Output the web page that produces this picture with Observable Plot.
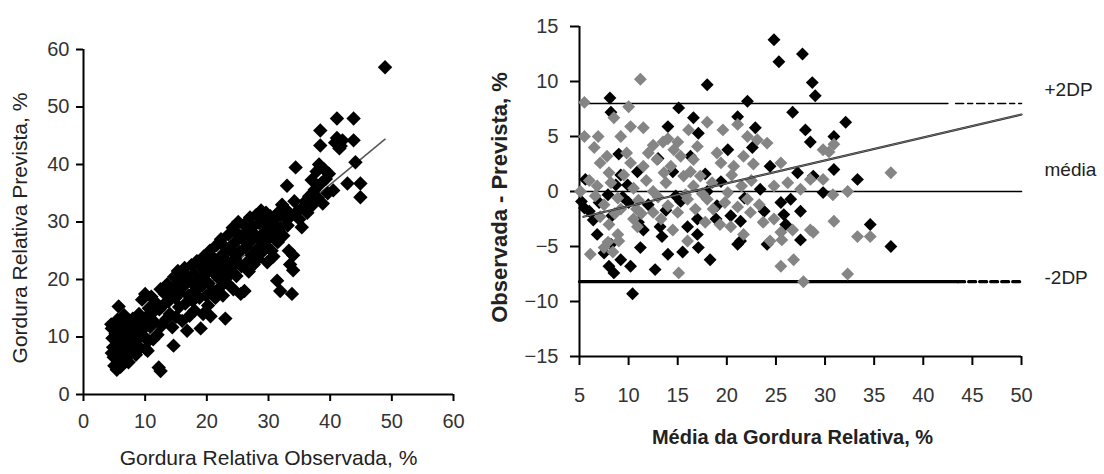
<!DOCTYPE html>
<html><head><meta charset="utf-8">
<script src="https://cdn.jsdelivr.net/npm/d3@7"></script>
<script src="https://cdn.jsdelivr.net/npm/@observablehq/plot@0.6"></script>
<style>
body{margin:0;background:#fff;}
#wrap{position:relative;width:1104px;height:474px;}
#left{position:absolute;left:0;top:0;}
#right{position:absolute;left:480px;top:0;}
</style></head><body><div id="wrap"><div id="left"></div><div id="right"></div></div>
<script>
// ---------- Left chart: observed vs predicted relative fat (%) ----------
const leftPoints = [
[4.6,11.5],[4.7,9.8],[4.8,8.2],[4.9,6.5],[5.0,5.0],[5.1,12.3],[5.2,10.6],[5.3,7.4],[5.4,4.3],[5.5,9.0],[5.6,11.8],[5.7,15.3],[5.8,6.1],[5.9,8.7],[6.0,10.2],[6.1,12.6],[6.2,5.4],[6.3,7.7],[6.5,9.5],[6.6,13.8],[6.7,11.0],[6.8,6.8],[7.0,8.3],[7.1,10.7],[7.2,12.0],[7.3,5.6],[4.5,12.2],[4.6,7.2],[5.0,10.0],[5.5,13.0],[6.0,4.8],[6.4,8.0],
[7.5,9.2],[7.6,7.1],[7.8,11.4],[8.0,13.2],[8.1,8.6],[8.3,10.4],[8.5,6.9],[8.6,12.5],[8.8,9.7],[9.0,14.0],[9.2,8.1],[9.4,11.1],[9.5,16.5],[9.7,12.9],[9.9,10.0],[10.0,17.5],[10.1,7.9],[10.3,13.6],[10.5,9.3],[10.6,15.0],[10.4,7.6],
[10.8,11.8],[11.0,17.0],[11.2,14.2],[11.3,9.6],[11.5,12.6],[11.7,16.0],[12.0,10.4],[12.2,4.7],[12.5,4.1],[12.3,14.8],[12.5,18.3],[12.7,12.0],[13.0,15.6],[13.2,17.5],[13.4,13.1],[13.6,19.2],[13.8,16.2],[14.0,14.0],[14.2,18.0],[14.4,11.7],[14.6,8.5],[14.7,20.5],[14.9,16.8],[15.0,13.5],[15.1,19.0],[15.3,21.5],[15.5,15.2],[15.6,17.6],[15.8,20.2],
[16.0,12.8],[16.2,18.8],[16.4,22.0],[16.5,15.8],[16.7,20.8],[16.8,11.1],[17.0,17.2],[17.2,13.7],[17.4,19.6],[17.5,22.5],[17.7,16.3],[17.9,21.0],[18.0,14.6],[18.2,18.2],[18.4,23.2],[18.6,20.0],[18.8,16.8],[19.0,11.5],[19.0,22.2],[19.2,18.9],[19.4,14.0],[19.5,24.0],[19.7,20.8],[19.9,17.2],[20.0,22.8],[20.2,15.5],[20.3,19.3],[20.5,25.0],[20.6,13.6],
[20.8,21.5],[21.0,18.0],[21.2,23.6],[21.4,16.8],[21.6,26.0],[21.8,20.3],[22.0,22.5],[22.1,18.6],[22.3,27.0],[22.5,24.3],[22.6,17.2],[22.8,21.2],[23.0,13.2],[23.0,25.6],[23.2,19.5],[23.4,23.0],[23.5,27.8],[23.7,20.8],[23.9,25.0],[24.0,22.0],[24.2,29.0],[24.3,18.3],[24.5,26.4],[24.6,23.6],[24.8,20.6],[25.0,28.0],[25.1,30.0],[25.3,24.8],[25.5,17.5],[25.6,22.3],[25.8,27.0],
[26.0,29.5],[26.1,18.0],[26.3,25.6],[26.5,23.0],[26.6,28.4],[26.8,21.4],[27.0,30.8],[27.1,26.6],[27.3,24.2],[27.5,29.2],[27.6,22.6],[27.8,27.8],[28.0,31.2],[28.1,25.2],[28.3,23.6],[28.5,29.8],[28.6,27.0],[28.8,32.0],[29.0,24.8],[29.1,30.5],[29.3,28.2],[29.5,26.0],[29.6,31.6],[29.8,23.0],[30.0,29.0],[30.1,27.2],[30.3,31.0],[30.5,25.0],[30.6,29.8],
[30.8,24.0],[31.0,28.2],[31.2,30.6],[31.4,19.8],[31.5,26.5],[31.7,31.8],[31.9,18.0],[32.0,29.0],[32.2,33.0],[32.4,27.6],[32.6,30.8],[32.8,32.2],[33.0,36.3],[33.1,29.4],[33.3,25.0],[33.5,22.6],[33.8,17.5],[33.6,31.0],[34.0,21.6],[34.0,24.2],[34.2,33.6],[34.4,39.5],[34.6,31.8],[35.0,30.5],[35.4,29.1],[35.6,32.6],[36.0,33.6],[36.3,31.6],
[36.6,34.5],[37.0,37.3],[37.2,33.0],[37.5,35.6],[37.8,38.8],[38.0,34.2],[38.2,40.0],[38.4,43.3],[38.4,45.9],[38.6,36.8],[38.8,33.2],[39.0,39.2],[39.3,37.5],[39.6,35.0],[39.8,38.4],[40.5,35.5],[40.8,43.8],[41.1,48.0],[41.1,44.6],[41.5,42.8],[41.7,43.2],[42.0,44.2],[42.8,36.7],[43.8,48.0],[43.8,44.2],[44.1,40.4],[44.9,36.7],[44.9,34.3],[48.9,56.9]
];
const leftFitX = [5, 48.9];
const leftFitY = [5.5, 44.4];
const leftTicks = [0, 10, 20, 30, 40, 50, 60];
const leftXTitle = "Gordura Relativa Observada, %";
const leftYTitle = "Gordura Relativa Prevista, %";

// ---------- Right chart: Bland-Altman (mean vs difference) ----------
const blackPoints = [
[24.8,13.8],[25.3,11.8],[27.7,12.5],[28.7,9.9],[29.0,8.7],[18.0,9.7],[8.1,8.5],[8.2,7.2],[15.1,7.6],[22.1,8.2],[26.7,7.2],[28.0,5.6],[28.5,4.5],[32.1,6.3],[30.9,5.0],[30.9,2.0],[33.3,1.1],[34.6,-3.0],[16.6,6.7],[17.1,5.3],[14.0,5.9],[20.1,3.8],[21.1,6.8],[22.9,5.8],[22.6,4.0],[9.0,3.4],[5.6,1.1],[14.5,1.8],[19.4,0.9],[23.4,0.2],[24.4,2.3],[27.2,1.7],[5.5,-1.5],[5.2,-0.9],[6.4,-2.6],[15.3,-0.9],[17.0,-2.5],[18.9,-2.5],[25.5,-1.0],[26.5,-0.7],[27.5,-1.8],[29.8,-0.1],[28.8,1.4],[9.9,0.6],[10.9,1.8],[16.0,-3.2],[20.4,-2.2],[21.4,-2.7],[25.8,-2.1],[11.5,-3.5],[13.2,-3.2],[8.7,0.6],[7.9,-0.3],[10.0,-1.0],[27.5,-4.4],[21.4,-4.5],[10.4,-9.3],[10.2,-6.8],[8.5,-7.4],[8.0,-6.8],[6.8,-3.9],[12.7,-7.1],[14.0,-5.7],[15.5,-5.5],[17.1,-5.1],[18.3,-6.2],[17.0,-3.9],[11.2,-5.1],[13.4,-4.1],[21.1,-4.8],[24.1,-4.8],[9.2,-6.2],[36.7,-5.0],
[6.0,-1.8],[7.0,-1.0],[8.3,-2.2],[9.4,-0.5],[12.0,-1.2],[13.8,-1.7],[14.8,-0.4],[18.0,0.0],[19.0,-1.3],[21.8,-0.6],[23.8,-1.8],[26.0,-3.0],[7.5,-5.6],[8.2,-4.8],[11.0,-2.8],[9.2,1.5],[13.0,3.0],[16.3,3.2],[17.8,1.6]
];
const grayPoints = [
[11.2,10.2],[5.5,8.1],[10.0,7.7],[8.5,6.7],[5.5,5.0],[6.9,5.0],[9.2,5.0],[10.2,5.9],[11.5,5.8],[13.5,4.5],[14.6,3.8],[16.1,5.6],[18.0,6.3],[19.6,5.6],[21.1,6.1],[22.1,5.0],[23.1,4.7],[24.1,4.4],[17.0,4.1],[7.1,2.6],[8.0,1.7],[10.2,2.6],[11.5,2.3],[12.9,2.9],[13.6,1.7],[15.6,1.4],[16.6,2.9],[17.3,1.4],[19.4,2.6],[20.7,2.3],[21.7,3.2],[22.7,2.5],[25.5,2.6],[29.8,3.8],[30.9,4.3],[5.1,0.0],[6.6,-0.4],[8.9,-0.6],[10.5,0.3],[12.5,0.0],[14.0,-1.3],[16.6,0.5],[18.0,-0.7],[20.1,-0.1],[22.1,-0.7],[24.8,0.5],[26.2,0.8],[27.5,0.2],[28.5,1.1],[30.8,-0.3],[32.3,0.0],[24.8,-2.5],[30.9,-2.7],[28.5,-3.5],[33.3,-4.1],[7.1,-2.3],[9.2,-1.6],[10.5,-2.5],[12.5,-1.9],[15.0,-1.9],[16.0,-0.7],[18.6,-1.6],[21.1,-1.4],[22.4,-1.9],[23.7,-2.8],[26.7,-3.5],[25.5,-3.7],[29.8,1.1],[6.1,-5.7],[7.9,-4.6],[8.9,-3.9],[8.4,-5.5],[7.5,-5.1],[10.9,-3.2],[14.5,-3.5],[15.1,-7.4],[16.0,-4.5],[20.4,-3.2],[21.7,-3.9],[24.4,-4.5],[25.6,-4.4],[25.5,-6.8],[26.8,-6.2],[27.8,-8.2],[28.8,-3.7],[32.3,-7.5],[34.6,-4.1],[36.7,1.7],[30.4,3.6],
[6.0,1.0],[6.8,0.5],[7.5,-1.2],[8.2,0.8],[8.6,-2.0],[9.5,1.5],[11.0,-0.8],[11.8,1.0],[12.0,3.5],[13.0,-0.5],[13.8,0.8],[14.3,2.3],[15.3,3.2],[15.8,-0.3],[16.3,1.8],[17.5,-0.2],[18.5,0.8],[19.0,3.5],[19.8,-1.0],[20.5,1.5],[21.5,0.5],[22.5,1.0],[23.3,-1.2],[15.0,4.5],[14.0,4.8],[12.5,4.2],[9.8,3.5],[7.8,3.2],[6.5,4.0],[10.8,-1.6],[13.3,-2.5],[17.8,-2.8],[19.3,-3.0],[8.0,-3.0],[9.0,-4.5],[11.3,-2.0],[16.8,-1.6]
];
const rightFitX = [5.4, 50];
const rightFitY = [-2.3, 7.0];
const upperLimit = 8.0;
const meanDiff = 0;
const lowerLimit = -8.2;
const upperSolidEnd = 42.5, upperDashStart = 43.3;
const lowerSolidEnd = 43.5;
const rightXTicks = [5, 10, 15, 20, 25, 30, 35, 40, 45, 50];
const rightYTicks = [-15, -10, -5, 0, 5, 10, 15];
const rightXTitle = "Média da Gordura Relativa, %";
const rightYTitle = "Observada - Prevista, %";
const refLabels = ["+2DP", "média", "-2DP"];

const FONT = "'Liberation Sans', Arial, sans-serif";

const left = Plot.plot({
  width: 480, height: 474,
  marginLeft: 83, marginRight: 27, marginTop: 49, marginBottom: 80,
  style: {fontFamily: FONT, fontSize: "20px", color: "#000", background: "#fff"},
  x: {domain: [0, 60]},
  y: {domain: [0, 60]},
  marks: [
    Plot.axisX({ticks: leftTicks, tickSize: 7, tickPadding: 12, strokeWidth: 2, fill: "#333", fontSize: 20, label: null}),
    Plot.axisY({ticks: leftTicks, tickSize: 7, tickPadding: 7, strokeWidth: 2, fill: "#333", fontSize: 20, label: null}),
    Plot.ruleX([0], {strokeWidth: 2}),
    Plot.ruleY([0], {strokeWidth: 2}),
    Plot.line(leftFitX.map((x, i) => [x, leftFitY[i]]), {x: d => d[0], y: d => d[1], stroke: "#555", strokeWidth: 1.5}),
    Plot.dot(leftPoints, {x: d => d[0], y: d => d[1], symbol: "diamond2", r: 6.5, fill: "#000", stroke: "none"}),
    Plot.text([leftXTitle], {frameAnchor: "bottom", dy: 70, fontSize: 21, fill: "#222"}),
    Plot.text([leftYTitle], {frameAnchor: "left", textAnchor: "middle", dx: -63, dy: 6, rotate: -90, fontSize: 21, fill: "#222"})
  ]
});
document.getElementById("left").appendChild(left);

const seg = (x0, x1, y) => [[x0, y], [x1, y]];
const right = Plot.plot({
  width: 624, height: 474,
  marginLeft: 99, marginRight: 83, marginTop: 26, marginBottom: 118,
  style: {fontFamily: FONT, fontSize: "20px", color: "#000", background: "#fff", overflow: "visible"},
  x: {domain: [5, 50]},
  y: {domain: [-15, 15]},
  marks: [
    Plot.axisX({ticks: rightXTicks, tickSize: 9, tickPadding: 22, strokeWidth: 2, fill: "#333", fontSize: 20, label: null}),
    Plot.axisY({ticks: rightYTicks, tickSize: 9, tickPadding: 12, strokeWidth: 2, fill: "#333", fontSize: 20, label: null}),
    Plot.ruleX([5], {strokeWidth: 2}),
    Plot.ruleY([-15], {strokeWidth: 2}),
    Plot.line(seg(5, 50, meanDiff), {x: d => d[0], y: d => d[1], stroke: "#000", strokeWidth: 1.6}),
    Plot.line(seg(5, upperSolidEnd, upperLimit), {x: d => d[0], y: d => d[1], stroke: "#000", strokeWidth: 1.6}),
    Plot.line(seg(upperDashStart, 50, upperLimit), {x: d => d[0], y: d => d[1], stroke: "#000", strokeWidth: 1.6, strokeDasharray: "8,4,5,4"}),
    Plot.line(seg(5, lowerSolidEnd, lowerLimit), {x: d => d[0], y: d => d[1], stroke: "#000", strokeWidth: 3.2}),
    Plot.line(seg(lowerSolidEnd, 50, lowerLimit), {x: d => d[0], y: d => d[1], stroke: "#000", strokeWidth: 3.2, strokeDasharray: "7,4"}),
    Plot.dot(blackPoints, {x: d => d[0], y: d => d[1], symbol: "diamond2", r: 5.8, fill: "#000", stroke: "none"}),
    Plot.dot(grayPoints, {x: d => d[0], y: d => d[1], symbol: "diamond2", r: 5.8, fill: "#858585", stroke: "none"}),
    Plot.line(rightFitX.map((x, i) => [x, rightFitY[i]]), {x: d => d[0], y: d => d[1], stroke: "#222", strokeWidth: 2.2}),
    Plot.line(rightFitX.map((x, i) => [x, rightFitY[i]]), {x: d => d[0], y: d => d[1], stroke: "#aaa", strokeWidth: 0.6}),
    Plot.text([refLabels[0]], {x: 50, y: upperLimit, dx: 23, dy: -14, textAnchor: "start", fontSize: 19, fill: "#222"}),
    Plot.text([refLabels[1]], {x: 50, y: meanDiff, dx: 23, dy: -22, textAnchor: "start", fontSize: 19, fill: "#222"}),
    Plot.text([refLabels[2]], {x: 50, y: lowerLimit, dx: 23, dy: -4, textAnchor: "start", fontSize: 19, fill: "#222"}),
    Plot.text([rightXTitle], {frameAnchor: "bottom", dy: 87, dx: -8, fontSize: 20, fontWeight: "bold", fill: "#222"}),
    Plot.text([rightYTitle], {frameAnchor: "left", textAnchor: "middle", dx: -80, dy: 6, rotate: -90, fontSize: 22, fontWeight: "bold", fill: "#222"})
  ]
});
document.getElementById("right").appendChild(right);
</script></body></html>
